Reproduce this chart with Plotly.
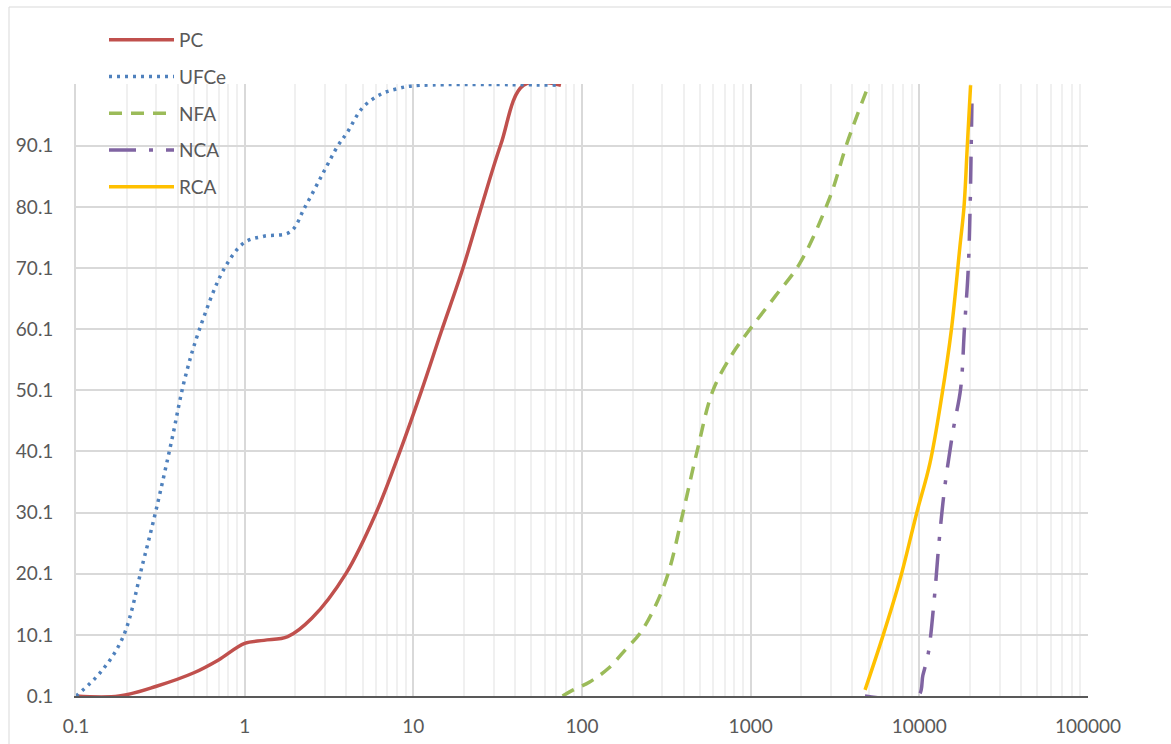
import plotly.graph_objects as go

# Cumulative passing (%) versus particle size for each material
pc_x = [0.1, 0.18, 0.3, 0.5, 0.7, 1.0, 1.3, 1.8, 2.5, 4.0, 6.0, 8.3, 11.2, 14.6, 19.7, 25.0, 33.0, 45.0, 75.0]
pc_y = [0.1, 0.1, 1.7, 3.9, 6.0, 8.7, 9.2, 9.8, 12.8, 20.2, 30.0, 40.0, 50.1, 59.6, 70.1, 79.6, 90.3, 100.0, 100.0]

ufce_x = [0.1, 0.14, 0.19, 0.25, 0.30, 0.37, 0.44, 0.54, 0.76, 1.0, 1.3, 1.86, 2.28, 2.9, 3.57, 4.04, 5.03, 6.49, 8.0, 10.0, 75.0]
ufce_y = [0.1, 4.0, 9.75, 22.0, 30.8, 42.0, 51.8, 60.1, 70.1, 74.3, 75.3, 76.0, 80.1, 85.5, 90.1, 92.2, 96.4, 98.6, 99.4, 99.9, 100.0]

nfa_x = [76.7, 88.7, 111, 143, 184, 221, 271, 324, 397, 481, 598, 785, 991, 1400, 1959, 2953, 3724, 5000]
nfa_y = [0.1, 1.1, 2.4, 4.6, 7.9, 10.35, 14.7, 20.1, 30.1, 40.1, 50.1, 56.2, 60.1, 65.5, 70.9, 81.7, 90.5, 100.0]

nca_x = [4760, 9800, 10500, 11300, 12280, 13100, 14200, 15900, 17580, 18500, 19500, 20000, 20300, 20500]
nca_y = [0.1, 0.1, 3.5, 7.1, 16.2, 25.4, 34.6, 43.7, 50.4, 60.1, 70.0, 80.0, 90.0, 97.0]

rca_x = [4766, 6110, 7670, 9640, 11560, 13560, 15500, 17400, 18400, 19250, 20130]
rca_y = [1.1, 10.1, 19.1, 30.0, 38.2, 49.0, 60.1, 73.6, 80.1, 90.1, 100.0]

y_ticks = [0.1, 10.1, 20.1, 30.1, 40.1, 50.1, 60.1, 70.1, 80.1, 90.1]
x_ticks = [0.1, 1, 10, 100, 1000, 10000, 100000]
x_labels = ["0.1", "1", "10", "100", "1000", "10000", "100000"]

series = [
    ("PC", pc_x, pc_y, "#C0504D", "solid"),
    ("UFCe", ufce_x, ufce_y, "#4F81BD", "3px,5px"),
    ("NFA", nfa_x, nfa_y, "#9BBB59", "13px,9px"),
    ("NCA", nca_x, nca_y, "#8064A2", "27px,13px,4px,13px"),
    ("RCA", rca_x, rca_y, "#FFC000", "solid"),
]

fig = go.Figure()
for name, xs, ys, color, dash in series:
    fig.add_trace(go.Scatter(
        x=xs, y=ys, name=name, mode="lines", legendgroup=name,
        line=dict(color=color, width=3.5, dash=dash, shape="spline", smoothing=1.0),
    ))

TEXT = "#595959"
FONT = "Lato, 'Open Sans', sans-serif"
FS = 19

L, R, T, B = 76, 83, 84, 48
W, H = 1171, 744
pw, ph = W - L - R, H - T - B

fig.update_layout(
    width=W, height=H,
    margin=dict(l=L, r=R, t=T, b=B, pad=0, autoexpand=False),
    paper_bgcolor="white", plot_bgcolor="white",
    font=dict(family=FONT, size=FS, color=TEXT),
    showlegend=True,
    legend=dict(
        x=(104 - L) / pw, y=(H - B - 21) / ph, xanchor="left", yanchor="top",
        bgcolor="rgba(0,0,0,0)", borderwidth=0, traceorder="grouped", tracegroupgap=9,
        itemwidth=65, font=dict(family=FONT, size=FS, color=TEXT),
    ),
    xaxis=dict(
        type="log", range=[-1, 5], automargin=False,
        tickvals=x_ticks, ticktext=x_labels,
        showgrid=True, gridcolor="#D9D9D9", gridwidth=1.6,
        minor=dict(dtick="D1", showgrid=True, gridcolor="#F0F0F0", gridwidth=1.8, ticks=""),
        showline=True, linecolor="#595959", linewidth=1.6,
        ticks="", zeroline=False, layer="below traces", ticklabelstandoff=12,
        tickfont=dict(family=FONT, size=FS, color=TEXT),
    ),
    yaxis=dict(
        range=[0.1, 100.2], tickvals=y_ticks, automargin=False,
        showgrid=True, gridcolor="#D9D9D9", gridwidth=1.6,
        showline=True, linecolor="#D9D9D9", linewidth=1.6,
        ticks="", zeroline=False, layer="below traces", ticklabelstandoff=17,
        tickfont=dict(family=FONT, size=FS, color=TEXT),
    ),
    shapes=[dict(
        type="rect", xref="paper", yref="paper",
        x0=(9 - L) / pw, x1=(1185 - L) / pw,
        y0=(H - B - 760) / ph, y1=(H - B - 7) / ph,
        line=dict(color="#D9D9D9", width=1), fillcolor="rgba(0,0,0,0)", layer="below",
    )],
)

fig.write_html("out.html")
